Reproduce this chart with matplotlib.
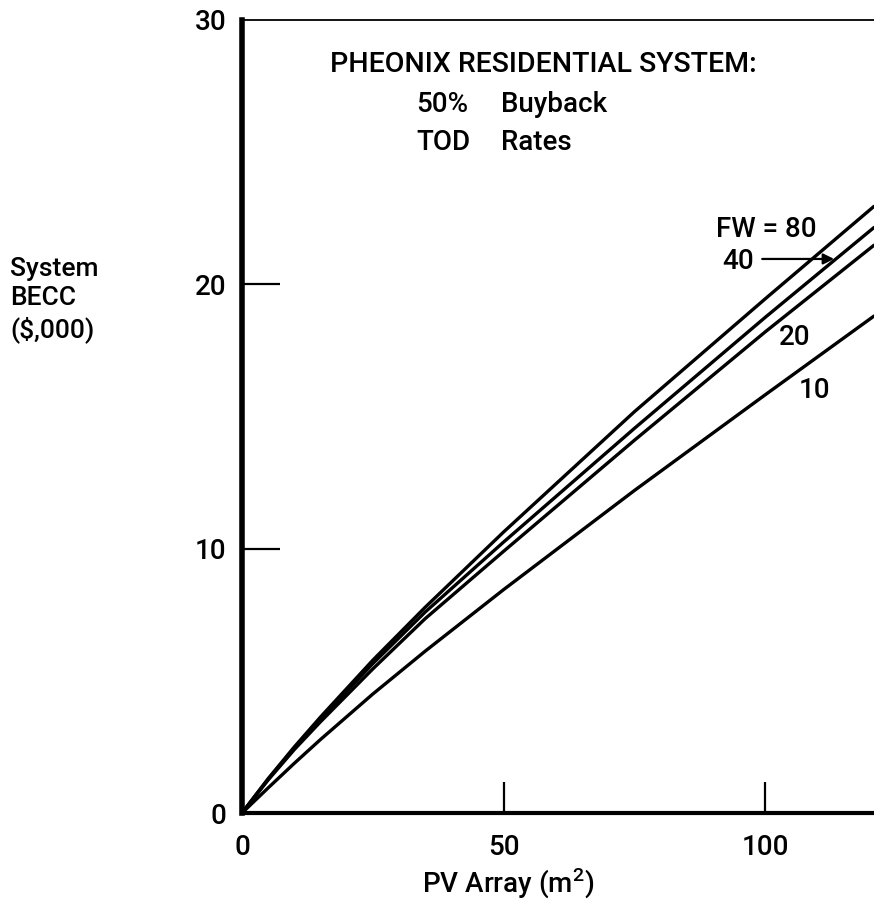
import matplotlib
matplotlib.use("Agg")
import matplotlib.pyplot as plt

FONT = ['Roboto', 'Liberation Sans', 'DejaVu Sans']
plt.rcParams['font.family'] = FONT
plt.rcParams['font.weight'] = 'medium'
plt.rcParams['mathtext.fontset'] = 'custom'
plt.rcParams['mathtext.rm'] = 'Roboto:medium'

# PV array area (m^2)
area = [0, 5, 10, 15, 25, 35, 50, 75, 100, 120.8]
# System BECC ($,000) for each FW value
becc_fw80 = [0, 1.30, 2.50, 3.63, 5.78, 7.78, 10.63, 15.18, 19.45, 22.95]
becc_fw40 = [0, 1.28, 2.45, 3.55, 5.65, 7.60, 10.25, 14.55, 18.75, 22.15]
becc_fw20 = [0, 1.25, 2.40, 3.45, 5.45, 7.35, 9.90, 14.10, 18.20, 21.48]
becc_fw10 = [0, 0.95, 1.88, 2.78, 4.50, 6.12, 8.45, 12.20, 15.82, 18.80]

xticks = [0, 50, 100]
yticks = [0, 10, 20, 30]

W, H = 874, 906
fig = plt.figure(figsize=(W / 100, H / 100), dpi=100)
ax = fig.add_axes([242 / W, 93 / H, 632 / W, 793 / H])

for series in (becc_fw80, becc_fw40, becc_fw20, becc_fw10):
    ax.plot(area, series, color='black', lw=2.4, solid_capstyle='round',
            solid_joinstyle='round')

ax.set_xlim(0, 120.8)
ax.set_ylim(0, 30)

ax.spines['right'].set_visible(False)
ax.spines['left'].set_linewidth(4)
ax.spines['bottom'].set_linewidth(3)
ax.spines['top'].set_linewidth(1.3)

ax.set_xticks(xticks)
ax.set_xticklabels([str(v) for v in xticks])
ax.set_yticks(yticks)
ax.set_yticklabels([str(v) for v in yticks])
ax.tick_params(axis='y', direction='in', length=27, width=1.6, pad=11, labelsize=20)
ax.tick_params(axis='x', direction='in', length=22, width=1.6, pad=15, labelsize=20)
for t, v in zip(ax.yaxis.get_major_ticks(), yticks):
    if v in (0, 30):
        t.tick1line.set_visible(False)
for t, v in zip(ax.xaxis.get_major_ticks(), xticks):
    if v == 0:
        t.tick1line.set_visible(False)

# Curve labels
ax.text(90.6, 22.06, 'FW = 80', fontsize=20, ha='left', va='center')
ax.text(91.8, 20.85, '40', fontsize=20, ha='left', va='center')
ax.annotate('', xy=(113.7, 20.96), xytext=(98.9, 20.96),
            arrowprops=dict(arrowstyle='-|>', lw=1.6, color='black', mutation_scale=16))
ax.text(102.7, 18.0, '20', fontsize=20, ha='left', va='center')
ax.text(106.5, 16.0, '10', fontsize=20, ha='left', va='center')

# Annotation block
ax.text(16.8, 28.3, 'PHEONIX RESIDENTIAL SYSTEM:', fontsize=20.5, ha='left', va='center')
ax.text(33.3, 26.8, '50%', fontsize=20, ha='left', va='center')
ax.text(49.5, 26.8, 'Buyback', fontsize=20, ha='left', va='center')
ax.text(33.3, 25.35, 'TOD', fontsize=20, ha='left', va='center')
ax.text(49.5, 25.35, 'Rates', fontsize=20, ha='left', va='center')

# Axis titles
fig.text(508 / W, 1 - 883 / H, 'PV Array (m$^{2}$)', fontsize=20, ha='center', va='center')
fig.text(10 / W, 1 - 300 / H, 'System\nBECC\n($,000)', fontsize=19, ha='left', va='center',
         linespacing=1.3)

fig.savefig('out.png', dpi=100)
